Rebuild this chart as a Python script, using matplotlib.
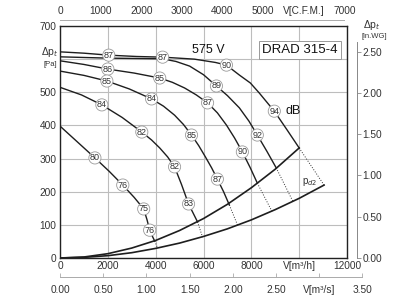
import matplotlib
matplotlib.use('Agg')
import matplotlib.pyplot as plt

plt.rcParams['font.family'] = ['Liberation Sans', 'DejaVu Sans']

# unit conversions
PA_PER_INWG = 249.09
M3H_PER_CFM = 1.699
M3H_PER_M3S = 3600.0

# fan curves (V m3/h, dp Pa), solid part up to the upper limit curve
q_a = [0, 1000, 2040, 3200, 4290, 5620, 6500, 6960, 7500, 7960, 8330, 8960, 9480, 10000]
p_a = [622, 618, 612, 608, 606, 600, 590, 582, 552, 528, 498, 443, 388, 332]
q_b = [0, 1000, 2040, 3200, 4290, 4850, 5420, 6000, 6540, 7000, 7500, 7900, 8250, 8650, 9040]
p_b = [607, 605, 603, 602, 601, 593, 579, 553, 519, 490, 453, 413, 371, 322, 272]
q_c = [0, 1000, 2000, 3100, 4170, 4700, 5210, 5700, 6170, 6580, 6960, 7300, 7625, 7950, 8250]
p_c = [595, 584, 570, 558, 543, 530, 513, 492, 468, 438, 401, 362, 320, 273, 226]
q_d = [0, 1000, 1960, 2900, 3830, 4330, 4790, 5160, 5500, 5800, 6080, 6340, 6580, 6840, 7080]
p_d = [564, 551, 534, 510, 480, 458, 431, 403, 371, 339, 305, 272, 238, 200, 160]
q_e = [0, 900, 1750, 2600, 3420, 3830, 4170, 4500, 4790, 5080, 5375, 5570, 5750]
p_e = [515, 492, 462, 424, 380, 356, 332, 305, 275, 222, 163, 135, 109]
q_f = [0, 700, 1460, 2050, 2625, 3100, 3500, 3640, 3750, 3860, 3960]
p_f = [398, 352, 302, 262, 220, 183, 148, 115, 84, 66, 51]

# dotted end of every fan curve, on the lower curve
q_end = [11040, 9750, 8875, 7420, 5960, 4080]
p_end = [220, 169, 139, 100, 63, 30]

# upper limit curve and dynamic pressure curve pd2
q_up = [0, 1000, 2000, 3000, 4000, 5000, 6000, 7000, 8000, 9000, 10000]
p_up = [0, 3, 13, 30, 53, 83, 119, 162, 212, 268, 332]
q_pd = [0, 1000, 2000, 3000, 4000, 5000, 6000, 7000, 8000, 9000, 10000, 11040]
p_pd = [0, 2, 7, 16, 29, 45, 65, 88, 115, 146, 180, 220]

# sound level marks (dB) along the curves
lab_q = [2040, 4290, 6960, 8960, 6540, 8250, 2000, 4170, 6170, 7625, 1960,
         3830, 5500, 6580, 1750, 3420, 4790, 5375, 1460, 2625, 3500, 3750]
lab_p = [612, 606, 582, 443, 519, 371, 570, 543, 468, 320, 534,
         480, 371, 238, 462, 380, 275, 163, 302, 220, 148, 84]
lab_db = [87, 87, 90, 94, 89, 92, 86, 85, 87, 90, 85,
          84, 85, 87, 84, 82, 82, 83, 80, 76, 75, 76]

W, H = 417, 300
fig = plt.figure(figsize=(W / 100, H / 100), dpi=100)
ax = fig.add_axes([60 / W, 42 / H, 287 / W, 232 / H])
ax.set_xlim(0, 12000)
ax.set_ylim(0, 700)
ax.grid(color='#bdbdbd', lw=0.8)
ax.set_axisbelow(True)
for s in ax.spines.values():
    s.set_color('#222')
    s.set_linewidth(1.0)

ax.set_xticks([0, 2000, 4000, 6000, 8000, 10000, 12000])
ax.set_xticklabels(['0', '2000', '4000', '6000', '8000', 'V[m³/h]', '12000'])
ax.set_yticks([0, 100, 200, 300, 400, 500, 600, 700])
ax.set_yticklabels(['0', '100', '200', '300', '400', '500', '', '700'])
ax.tick_params(length=0, labelsize=7.3, colors='#333', pad=2.5)

curves = [(q_a, p_a), (q_b, p_b), (q_c, p_c), (q_d, p_d), (q_e, p_e), (q_f, p_f)]
for (q, p), qe, pe in zip(curves, q_end, p_end):
    ax.plot(q, p, color='#1e1e1e', lw=1.0, zorder=3)
    ax.plot([q[-1], qe], [p[-1], pe], color='#333', lw=0.7, ls=':', zorder=3)

ax.plot(q_up, p_up, color='#1e1e1e', lw=1.2, zorder=3)
ax.plot(q_pd, p_pd, color='#1e1e1e', lw=1.2, zorder=3)

for q, p, db in zip(lab_q, lab_p, lab_db):
    ax.text(q, p, str(db), fontsize=6.5, ha='center', va='center', color='#333', zorder=5,
            bbox=dict(boxstyle='circle,pad=0.12', fc='white', ec='#9a9a9a', lw=0.6))

ax.text(6190, 629, '575 V', fontsize=9, ha='center', va='center', color='#111')
ax.text(10040, 628, 'DRAD 315-4', fontsize=9.5, ha='center', va='center', color='#111',
        bbox=dict(boxstyle='square,pad=0.25', fc='white', ec='#999', lw=0.7))
ax.text(9750, 443, 'dB', fontsize=9, ha='center', va='center', color='#111')
ax.text(10420, 229, 'p$_{d2}$', fontsize=7, ha='center', va='center', color='#333')

# top axis in C.F.M.
ax_t = ax.twiny()
ax_t.set_xlim(0, 12000 / M3H_PER_CFM)
for k in ['left', 'right', 'bottom']:
    ax_t.spines[k].set_visible(False)
ax_t.spines['top'].set_position(('axes', 1.026))
ax_t.spines['top'].set_bounds(0, 7000)
ax_t.spines['top'].set_color('#aaa')
ax_t.spines['top'].set_linewidth(0.7)
ax_t.set_xticks([0, 1000, 2000, 3000, 4000, 5000, 6000, 7000])
ax_t.set_xticklabels(['0', '1000', '2000', '3000', '4000', '5000', 'V[C.F.M.]', '7000'])
ax_t.tick_params(length=0, labelsize=7.3, colors='#333', pad=3)

# right axis in in.WG
ax_r = ax.twinx()
ax_r.set_ylim(0, 700 / PA_PER_INWG)
for k in ['left', 'top', 'bottom']:
    ax_r.spines[k].set_visible(False)
ax_r.spines['right'].set_position(('axes', 1.035))
ax_r.spines['right'].set_bounds(0, 2.62)
ax_r.spines['right'].set_color('#888')
ax_r.spines['right'].set_linewidth(0.7)
ax_r.set_yticks([0, 0.5, 1.0, 1.5, 2.0, 2.5])
ax_r.set_yticklabels(['0.00', '0.50', '1.00', '1.50', '2.00', '2.50'])
ax_r.tick_params(length=3, width=0.6, color='#888', labelsize=7.3, labelcolor='#333', pad=1)

# bottom axis in m3/s
ax_s = fig.add_axes([60 / W, 23 / H, (12600 / 12000 * 288) / W, 0.001])
ax_s.set_xlim(0, 12600 / M3H_PER_M3S)
ax_s.set_yticks([])
ax_s.patch.set_visible(False)
for k in ['left', 'right', 'top']:
    ax_s.spines[k].set_visible(False)
ax_s.spines['bottom'].set_color('#aaa')
ax_s.spines['bottom'].set_linewidth(0.7)
ax_s.set_xticks([0, 0.5, 1.0, 1.5, 2.0, 2.5, 3.0, 3.5])
ax_s.set_xticklabels(['0.00', '0.50', '1.00', '1.50', '2.00', '2.50', 'V[m³/s]', '3.50'])
ax_s.tick_params(direction='in', length=3, width=0.6, color='#aaa', labelsize=7.3,
                 labelcolor='#333', pad=6)

# axis titles
fig.text(50 / W, 1 - 52 / H, 'Δp$_t$', fontsize=7.5, ha='center', va='center', color='#333')
fig.text(50 / W, 1 - 64 / H, '[Pa]', fontsize=5.5, ha='center', va='center', color='#333')
fig.text(372 / W, 1 - 25 / H, 'Δp$_t$', fontsize=7.5, ha='center', va='center', color='#333')
fig.text(374 / W, 1 - 37 / H, '[in.WG]', fontsize=5.5, ha='center', va='center', color='#333')

fig.savefig('out.png', dpi=100)
